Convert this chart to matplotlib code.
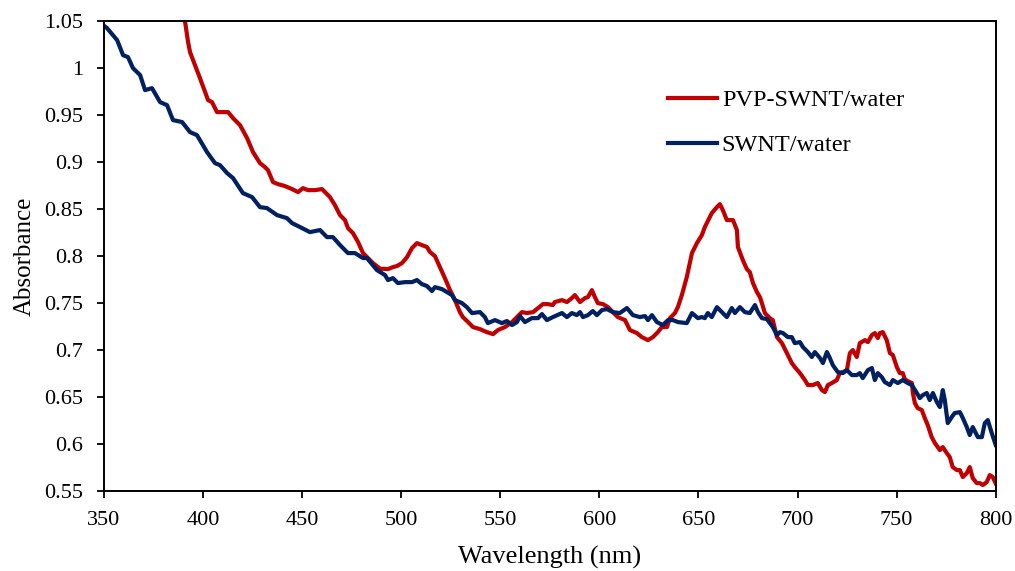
import matplotlib
matplotlib.use("Agg")
import matplotlib.pyplot as plt

# UV-Vis absorbance spectra
wl_pvp = [388, 391, 392.4, 393.4, 395.9, 398.4, 401.0, 402.5, 404.5, 407.0, 410.0, 412.6, 415.1, 418.6,
          422.2, 425.2, 428.7, 431.2, 432.7, 435.3, 437.8, 441.3, 444.9, 447.9, 450.4, 452.9,
          456.5, 460.0, 464.0, 466.5, 469.1, 471.6, 473.1, 475.6, 478.2, 480.7, 483.2, 485.7,
          489.3, 493.3, 495.8, 497.8, 500.4, 502.9, 505.4, 507.9, 510.4, 513.0, 514.5, 517.0,
          519.5, 522.0, 524.6, 527.1, 529.6, 531.1, 533.7, 536.2, 539.7, 543.2, 546.3, 548.8,
          552.3, 555.9, 558.4, 560.9, 563.4, 566.5, 569.0, 571.5, 574.0, 576.5, 577.5, 581.1,
          583.6, 586.1, 587.6, 590.2, 592.7, 594.2, 596.2, 597.7, 599.2, 601.8, 604.3, 606.8,
          609.3, 612.9, 615.4, 618.9, 621.4, 624.5, 627.0, 629.5, 631.5, 634.1, 635.6, 638.1,
          639.6, 641.6, 644.1, 646.7, 649.2, 651.7, 653.2, 656.7, 659.3, 660.8, 662.3, 664.3,
          667.4, 669.4, 669.9, 672.4, 674.4, 675.9, 677.5, 679.5, 681.0, 682.0, 683.5, 686.0,
          687.5, 689.6, 692.1, 694.6, 697.1, 698.6, 701.2, 703.7, 705.2, 707.7, 710.2, 712.3,
          713.8, 715.3, 717.3, 719.8, 721.3, 722.9, 724.9, 726.4, 727.9, 729.9, 731.4, 734.0,
          735.5, 737.5, 739.0, 740.5, 741.5, 743.0, 745.0, 746.6, 748.1, 750.1, 751.6, 753.1,
          754.1, 755.6, 757.7, 758.2, 759.2, 760.6, 762.7, 764.2, 765.7, 767.7, 769.3, 771.8,
          773.3, 775.3, 776.8, 778.3, 780.4, 781.9, 783.4, 785.4, 786.9, 788.4, 790.4, 792.0,
          793.5, 795.5, 797.0, 798.5, 800.0]
abs_pvp = [1.075, 1.048, 1.0277, 1.0170, 1.0032, 0.9894, 0.9745, 0.9660, 0.9638, 0.9532, 0.9532, 0.9532,
           0.9468, 0.9394, 0.9255, 0.9106, 0.8989, 0.8947, 0.8915, 0.8787, 0.8766, 0.8745, 0.8713,
           0.8681, 0.8723, 0.8702, 0.8702, 0.8713, 0.8628, 0.8543, 0.8436, 0.8383, 0.8298, 0.8245,
           0.8149, 0.8032, 0.7979, 0.7926, 0.7866, 0.7862, 0.7883, 0.7894, 0.7926, 0.7989, 0.8085,
           0.8138, 0.8117, 0.8096, 0.8043, 0.8000, 0.7883, 0.7766, 0.7638, 0.7532, 0.7404, 0.7351,
           0.7298, 0.7245, 0.7223, 0.7191, 0.7170, 0.7213, 0.7245, 0.7298, 0.7351, 0.7404, 0.7394,
           0.7404, 0.7447, 0.7489, 0.7489, 0.7479, 0.7511, 0.7532, 0.7511, 0.7553, 0.7585, 0.7511,
           0.7553, 0.7564, 0.7638, 0.7564, 0.7500, 0.7489, 0.7457, 0.7404, 0.7351, 0.7319, 0.7213,
           0.7181, 0.7138, 0.7106, 0.7138, 0.7191, 0.7245, 0.7245, 0.7340, 0.7394, 0.7457, 0.7585,
           0.7777, 0.8032, 0.8138, 0.8223, 0.8309, 0.8457, 0.8521, 0.8553, 0.8489, 0.8383, 0.8383,
           0.8277, 0.8096, 0.7957, 0.7862, 0.7830, 0.7713, 0.7617, 0.7564, 0.7500, 0.7394, 0.7340,
           0.7319, 0.7138, 0.7074, 0.6968, 0.6862, 0.6819, 0.6755, 0.6681, 0.6628, 0.6628, 0.6649,
           0.6574, 0.6553, 0.6628, 0.6649, 0.6681, 0.6755, 0.6766, 0.6787, 0.6968, 0.7000, 0.6926,
           0.7074, 0.7106, 0.7085, 0.7160, 0.7181, 0.7128, 0.7181, 0.7191, 0.7106, 0.6968, 0.6947,
           0.6819, 0.6755, 0.6755, 0.6691, 0.6670, 0.6649, 0.6543, 0.6436, 0.6383, 0.6362, 0.6277,
           0.6202, 0.6074, 0.6011, 0.5936, 0.5968, 0.5904, 0.5862, 0.5755, 0.5723, 0.5723, 0.5649,
           0.5691, 0.5755, 0.5638, 0.5585, 0.5585, 0.5564, 0.5596, 0.5670, 0.5649, 0.5580]

wl_swnt = [350.0, 351.5, 356.6, 359.6, 362.1, 364.6, 368.2, 370.7, 374.2, 378.3, 381.8, 384.8, 389.4,
           393.4, 396.9, 402.0, 406.0, 408.5, 412.1, 415.1, 420.1, 424.7, 428.7, 432.2, 437.3,
           442.3, 444.9, 448.9, 453.9, 459.0, 462.5, 465.5, 469.1, 473.1, 476.6, 480.7, 482.7,
           487.7, 491.8, 493.3, 495.8, 498.3, 501.9, 505.4, 507.9, 510.4, 513.0, 515.5, 517.0,
           520.5, 523.1, 525.6, 527.1, 530.6, 533.1, 535.7, 539.7, 542.2, 543.7, 547.3, 550.8,
           553.3, 555.9, 558.4, 559.9, 562.4, 565.9, 569.0, 571.0, 573.5, 576.5, 581.1, 583.6,
           586.1, 588.6, 590.2, 591.7, 594.2, 596.7, 598.7, 601.3, 603.8, 606.8, 610.3, 613.9,
           616.9, 620.4, 623.0, 624.5, 626.5, 629.0, 632.0, 634.6, 637.1, 639.6, 644.1, 646.7,
           649.7, 651.7, 653.2, 654.7, 656.7, 659.3, 661.8, 664.3, 666.8, 668.4, 670.9, 673.4,
           675.9, 678.5, 680.0, 682.0, 684.5, 686.0, 687.5, 689.6, 691.1, 692.6, 695.1, 697.1,
           698.6, 701.2, 702.7, 705.2, 707.2, 708.7, 711.3, 712.8, 714.8, 716.3, 717.8, 720.3,
           722.9, 724.9, 727.4, 729.9, 731.4, 732.9, 735.5, 737.5, 739.0, 740.5, 742.5, 744.0,
           746.6, 748.1, 750.6, 753.1, 755.6, 757.7, 760.2, 761.7, 763.2, 765.2, 766.7, 768.3,
           770.3, 771.8, 773.3, 774.3, 775.8, 777.8, 779.3, 781.9, 783.4, 785.4, 786.9, 788.4,
           791.0, 793.0, 794.5, 796.0, 798.0, 800.0]
abs_swnt = [1.045, 1.0426, 1.0298, 1.0138, 1.0117, 1.0000, 0.9926, 0.9766, 0.9787, 0.9638, 0.9606, 0.9447,
            0.9426, 0.9319, 0.9287, 0.9106, 0.8989, 0.8968, 0.8883, 0.8830, 0.8670, 0.8628, 0.8521,
            0.8511, 0.8436, 0.8404, 0.8351, 0.8309, 0.8255, 0.8277, 0.8202, 0.8202, 0.8117, 0.8032,
            0.8032, 0.7979, 0.7979, 0.7851, 0.7798, 0.7745, 0.7766, 0.7713, 0.7723, 0.7723, 0.7745,
            0.7702, 0.7681, 0.7628, 0.7670, 0.7649, 0.7617, 0.7585, 0.7532, 0.7500, 0.7457, 0.7394,
            0.7404, 0.7351, 0.7287, 0.7319, 0.7287, 0.7309, 0.7266, 0.7298, 0.7362, 0.7298, 0.7340,
            0.7340, 0.7383, 0.7319, 0.7351, 0.7394, 0.7351, 0.7394, 0.7372, 0.7404, 0.7351, 0.7372,
            0.7415, 0.7372, 0.7426, 0.7436, 0.7404, 0.7394, 0.7447, 0.7372, 0.7351, 0.7362, 0.7319,
            0.7372, 0.7298, 0.7266, 0.7319, 0.7319, 0.7298, 0.7287, 0.7394, 0.7340, 0.7351, 0.7340,
            0.7394, 0.7351, 0.7457, 0.7404, 0.7351, 0.7447, 0.7394, 0.7457, 0.7404, 0.7394, 0.7479,
            0.7404, 0.7340, 0.7330, 0.7287, 0.7245, 0.7160, 0.7191, 0.7181, 0.7138, 0.7138, 0.7074,
            0.7085, 0.7032, 0.6979, 0.6926, 0.6979, 0.6915, 0.6862, 0.6979, 0.6915, 0.6840, 0.6766,
            0.6755, 0.6787, 0.6734, 0.6734, 0.6755, 0.6702, 0.6787, 0.6809, 0.6681, 0.6755, 0.6713,
            0.6660, 0.6628, 0.6681, 0.6649, 0.6681, 0.6649, 0.6628, 0.6543, 0.6489, 0.6521, 0.6543,
            0.6468, 0.6543, 0.6447, 0.6394, 0.6574, 0.6468, 0.6223, 0.6287, 0.6330, 0.6340, 0.6277,
            0.6181, 0.6096, 0.6181, 0.6074, 0.6074, 0.6223, 0.6255, 0.6117, 0.5990]

x_ticks = [350, 400, 450, 500, 550, 600, 650, 700, 750, 800]
y_ticks = [0.55, 0.6, 0.65, 0.7, 0.75, 0.8, 0.85, 0.9, 0.95, 1.0, 1.05]
y_tick_labels = ["0.55", "0.6", "0.65", "0.7", "0.75", "0.8", "0.85", "0.9", "0.95", "1", "1.05"]

plt.rcParams["font.family"] = ["Liberation Serif", "DejaVu Serif"]

fig = plt.figure(figsize=(10.15, 5.71), dpi=100)
ax = fig.add_axes([0.1025, 0.140, 0.8785, 0.823])

ax.plot(wl_pvp, abs_pvp, color="#C00000", lw=3.0, label="PVP-SWNT/water", solid_joinstyle="round")
ax.plot(wl_swnt, abs_swnt, color="#002060", lw=3.0, label="SWNT/water", solid_joinstyle="round")

ax.set_xlim(350, 800)
ax.set_ylim(0.55, 1.05)
ax.set_xticks(x_ticks)
ax.set_yticks(y_ticks)
ax.set_yticklabels(y_tick_labels)
ax.tick_params(direction="out", length=5, width=1.3, labelsize=16)
ax.tick_params(axis="x", pad=9)
ax.tick_params(axis="y", pad=10)
for s in ax.spines.values():
    s.set_linewidth(1.4)
    s.set_color("black")

ax.set_xlabel("Wavelength (nm)", fontsize=19, labelpad=12)
ax.set_ylabel("Absorbance", fontsize=18, labelpad=6)

ax.legend(loc="upper left", bbox_to_anchor=(0.622, 0.876), frameon=False, fontsize=17.5,
          handlelength=2.0, handletextpad=0.2, labelspacing=0.95, borderaxespad=0)

fig.savefig("out.png", dpi=100)
